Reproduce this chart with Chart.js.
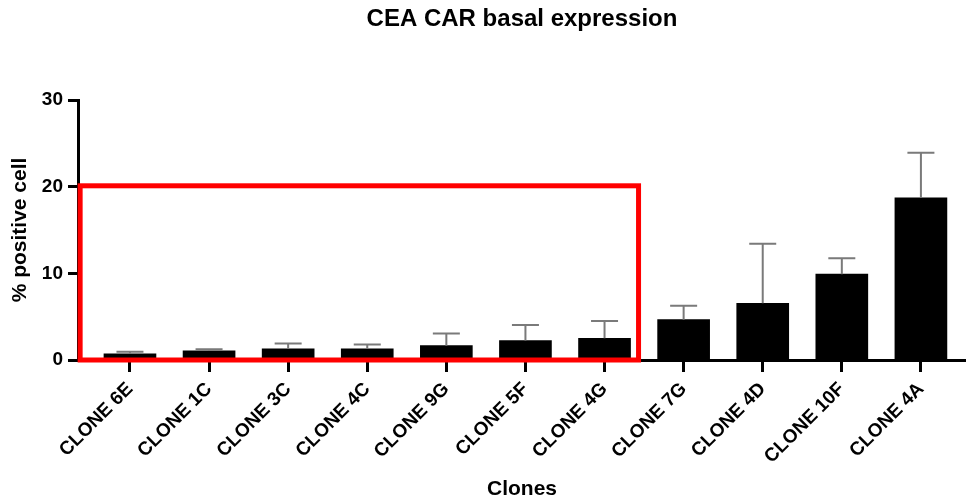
<!DOCTYPE html>
<html>
<head>
<meta charset="utf-8">
<title>CEA CAR basal expression</title>
<script src="https://cdn.jsdelivr.net/npm/chart.js@4.4.1/dist/chart.umd.min.js"></script>
<style>
  html, body { margin: 0; padding: 0; background: #fff; }
  #wrap { width: 966px; height: 501px; position: relative; }
</style>
</head>
<body>
<div id="wrap"><canvas id="chart"></canvas></div>
<script>
  // ---- data ----
  const clones = ["CLONE 6E", "CLONE 1C", "CLONE 3C", "CLONE 4C", "CLONE 9G", "CLONE 5F",
                  "CLONE 4G", "CLONE 7G", "CLONE 4D", "CLONE 10F", "CLONE 4A"];
  const pctPositive = [0.7, 1.05, 1.3, 1.3, 1.65, 2.25, 2.5, 4.65, 6.55, 9.9, 18.7];
  const pctSD       = [0.25, 0.2, 0.6, 0.5, 1.4, 1.8, 2.0, 1.6, 6.85, 1.85, 5.2];
  const yTicks = [0, 10, 20, 30];

  // red box drawn around the low expressers (in axis units)
  const highlight = { from: -0.63, to: 6.43, top: 20.1 };

  const FONT = "'Liberation Sans', Arial, Helvetica, sans-serif";
  Chart.defaults.color = "#000";
  Chart.defaults.font.family = FONT;

  // upper-only SD whiskers, like Prism
  const errorBars = {
    id: "errorBars",
    afterDatasetsDraw(chart) {
      const { ctx, scales: { x, y } } = chart;
      ctx.save();
      ctx.strokeStyle = "#7a7a7a";
      ctx.lineWidth = 2;
      pctPositive.forEach((v, i) => {
        const px = x.getPixelForValue(i);
        const y0 = y.getPixelForValue(v);
        const y1 = y.getPixelForValue(v + pctSD[i]);
        ctx.beginPath();
        ctx.moveTo(px, y0);
        ctx.lineTo(px, y1);
        ctx.moveTo(px - 13.5, y1);
        ctx.lineTo(px + 13.5, y1);
        ctx.stroke();
      });
      ctx.restore();
    }
  };

  const redBox = {
    id: "redBox",
    afterDatasetsDraw(chart) {
      const { ctx, scales: { x, y } } = chart;
      const l = x.getPixelForValue(highlight.from);
      const r = x.getPixelForValue(highlight.to);
      const t = y.getPixelForValue(highlight.top);
      const b = y.getPixelForValue(0);
      ctx.save();
      ctx.strokeStyle = "#ff0000";
      ctx.lineWidth = 5;
      ctx.strokeRect(l, t, r - l, b - t);
      ctx.restore();
    }
  };

  new Chart(document.getElementById("chart"), {
    type: "bar",
    data: {
      datasets: [{
        label: "% positive cell",
        data: clones.map((c, i) => ({ x: i, y: pctPositive[i] })),
        backgroundColor: "#000",
        borderWidth: 0,
        barThickness: 52
      }]
    },
    options: {
      responsive: true,
      maintainAspectRatio: false,
      animation: false,
      layout: { padding: 0 },
      plugins: {
        legend: { display: false },
        tooltip: { enabled: false },
        title: {
          display: true,
          text: "CEA CAR basal expression",
          fullSize: false,
          font: { size: 24, weight: "bold", family: FONT },
          color: "#000",
          padding: { top: 5, bottom: 66.2 }
        }
      },
      scales: {
        x: {
          type: "linear",
          offset: false,
          bounds: "data",
          min: -0.657,
          max: 10.57,
          afterBuildTicks: s => { s.ticks = clones.map((c, i) => ({ value: i })); },
          afterFit: s => { s.height = 141; },
          grid: { offset: false, drawOnChartArea: false, drawTicks: true, tickLength: 12, tickWidth: 3, tickColor: "#000" },
          border: { display: true, color: "#000", width: 3 },
          ticks: {
            autoSkip: false,
            minRotation: 45,
            maxRotation: 45,
            padding: 6,
            font: { size: 19, weight: "bold" },
            callback: v => clones[v]
          },
          title: {
            display: true,
            text: "Clones",
            font: { size: 21, weight: "bold" },
            padding: { top: 0, bottom: -1 }
          }
        },
        y: {
          min: 0,
          max: 30,
          afterBuildTicks: s => { s.ticks = yTicks.map(v => ({ value: v })); },
          afterFit: s => { s.width = 78; },
          grid: { drawOnChartArea: false, drawTicks: true, tickLength: 10, tickWidth: 3, tickColor: "#000" },
          border: { display: true, color: "#000", width: 3 },
          ticks: { padding: 5, font: { size: 19, weight: "bold" } },
          title: {
            display: true,
            text: "% positive cell",
            font: { size: 21, weight: "bold" },
            padding: { top: 8, bottom: 0 }
          }
        }
      }
    },
    plugins: [errorBars, redBox]
  });
</script>
</body>
</html>
